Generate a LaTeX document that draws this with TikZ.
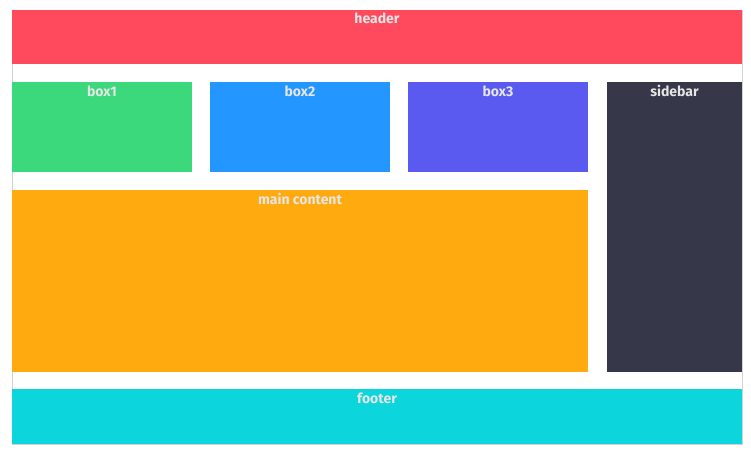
\documentclass[tikz,border=0pt]{standalone}
\usepackage{fontspec}
\setmainfont{Fira Sans}
\usetikzlibrary{positioning}
\definecolor{headerred}{RGB}{255,74,94}
\definecolor{boxgreen}{RGB}{59,216,124}
\definecolor{boxblue}{RGB}{36,150,255}
\definecolor{boxviolet}{RGB}{90,90,240}
\definecolor{sidegray}{RGB}{54,55,72}
\definecolor{mainorange}{RGB}{255,171,15}
\definecolor{footercyan}{RGB}{13,213,220}

\begin{document}
\begin{tikzpicture}[x=1pt,y=-1pt,
  area/.style={draw=none,inner sep=0pt,outer sep=0pt,anchor=north west},
  tag/.style={text=white!90!black,anchor=base,inner sep=0pt,font=\fontsize{14}{16}\selectfont\bfseries}]

\useasboundingbox (0,0) rectangle (751,451);
\draw[gray!35,line width=0.6pt] (12,10) rectangle (742,444);

% header and footer
\node[area,fill=headerred,minimum width=730pt,minimum height=54pt] (header) at (12,10) {};
\node[area,fill=footercyan,minimum width=730pt,minimum height=55pt] (footer) at (12,389) {};

% the three boxes
\foreach \i / \col / \x in {1/boxgreen/12,2/boxblue/210,3/boxviolet/408}
  \node[area,fill=\col,minimum width=180pt,minimum height=90pt] (box\i) at (\x,82) {};

\node[area,fill=mainorange,minimum width=576pt,minimum height=182pt] (main) at (12,190) {};
\node[area,fill=sidegray,minimum width=135pt,minimum height=290pt] (sidebar) at (607,82) {};

% labels
\node[tag] at ([yshift=-13pt]header.north) {header};
\foreach \i in {1,2,3}
  \node[tag] at ([yshift=-14pt]box\i.north) {box\i};
\node[tag] at ([yshift=-14pt]main.north) {main content};
\node[tag] at ([yshift=-14pt]sidebar.north) {sidebar};
\node[tag] at ([yshift=-14pt]footer.north) {footer};

\end{tikzpicture}
\end{document}
